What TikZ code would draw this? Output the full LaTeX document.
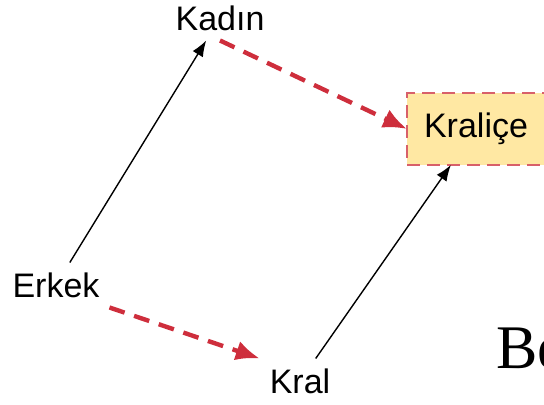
\documentclass[tikz,border=0pt]{standalone}
\usepackage{fontspec}
\newfontfamily\labelfont{Liberation Sans}
\newfontfamily\bodyfont{Liberation Serif}
\usetikzlibrary{arrows.meta}
\definecolor{dashred}{HTML}{CE2E3C}
\definecolor{boxfill}{HTML}{FFE8A3}
\definecolor{boxline}{HTML}{D8606A}

\begin{document}
\begin{tikzpicture}[x=0.5pt,y=-0.5pt,
    word/.style={font=\labelfont\fontsize{17}{20}\selectfont, inner sep=3pt, outer sep=2pt},
    link/.style={-{Latex[length=8pt,width=6pt]}, line width=0.7pt},
    analogy/.style={-{Latex[length=12pt,width=10pt]}, dashred, line width=2.2pt, dash pattern=on 8pt off 5pt}]
    \useasboundingbox (0,0) rectangle (544,405);

    % The four words
    \node[word] (kadin) at (220,18) {Kadın};
    \node[word] (erkek) at (56,285) {Erkek};
    \node[word] (kral) at (300,381) {Kral};
    \node[word, draw=boxline, fill=boxfill, line width=1.2pt, dash pattern=on 6.5pt off 3.5pt,
          inner xsep=8.5pt, minimum height=36pt, outer sep=0pt] (kralice) at (476,129) {Kraliçe};

    % Cut-off text at the right edge
    \node[font=\bodyfont\fontsize{31}{36}\selectfont, anchor=base west, inner sep=0pt] (be) at (496,368) {Be};

    % Relations
    \draw[link] (erkek) -- (kadin);
    \draw[link] (kral) -- (kralice);
    \draw[analogy] (kadin.south) -- (kralice.west);
    \draw[analogy] (erkek.south east) -- (kral.north west);
\end{tikzpicture}
\end{document}
